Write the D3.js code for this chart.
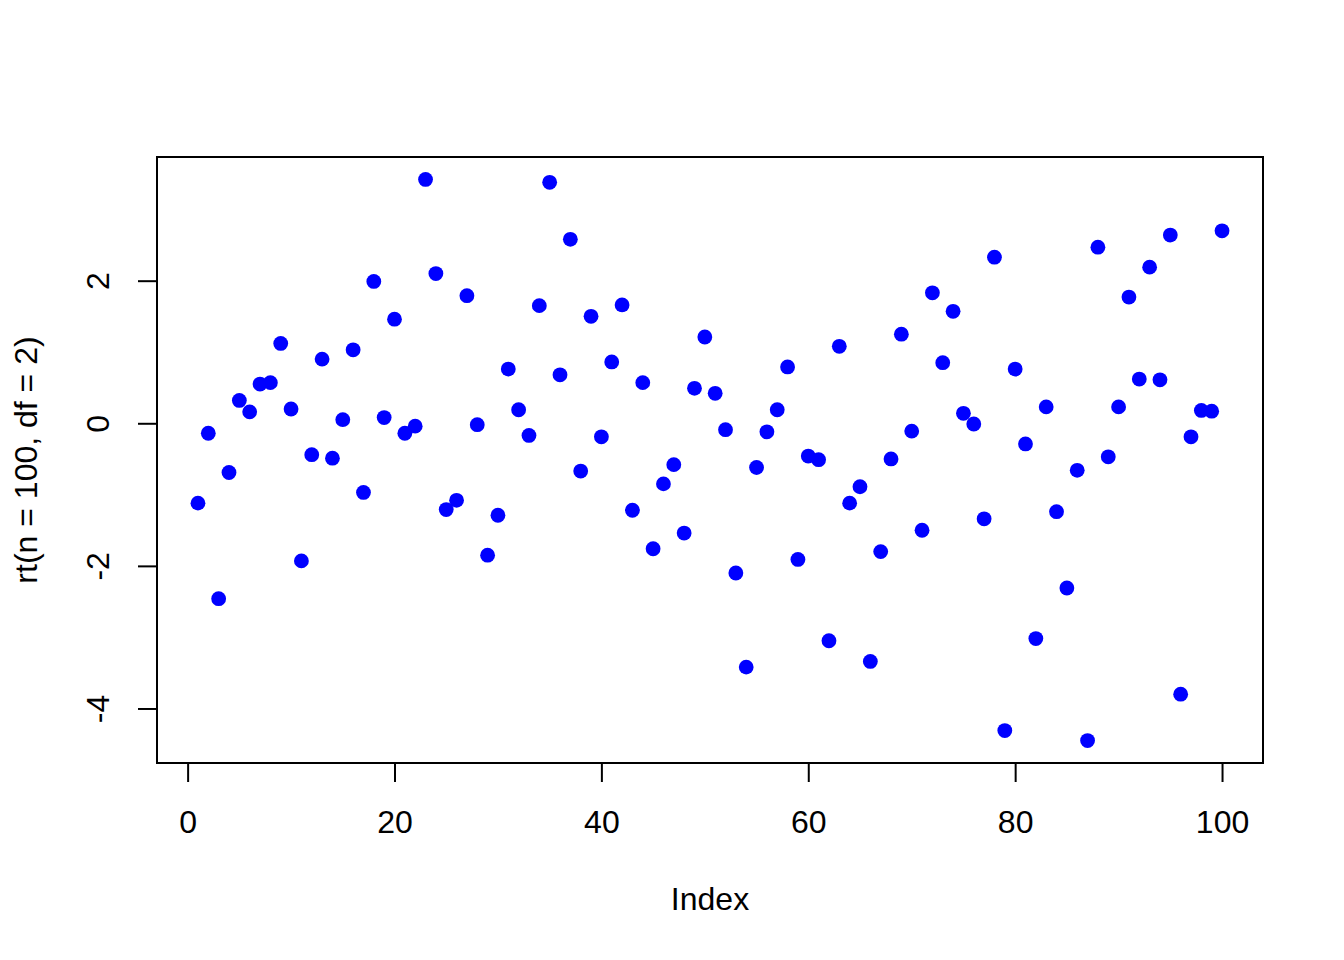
<!DOCTYPE html>
<html>
<head>
<meta charset="utf-8">
<script src="https://cdn.jsdelivr.net/npm/d3@7"></script>
<style>
  html, body { margin: 0; padding: 0; background: #fff; }
  svg { display: block; }
  text { font-family: "Liberation Sans", Arial, Helvetica, sans-serif; fill: #000; }
</style>
</head>
<body>
<svg id="chart" width="1344" height="960"></svg>
<script>
// ---- data ----
const values = [
  -1.12, -0.14, -2.46, -0.69, 0.32, 0.16, 0.55, 0.57, 1.12, 0.20,
  -1.93, -0.44, 0.90, -0.49, 0.05, 1.03, -0.97, 1.99, 0.08, 1.46,
  -0.14, -0.04, 3.42, 2.10, -1.21, -1.08, 1.79, -0.02, -1.85, -1.29,
  0.76, 0.19, -0.17, 1.65, 3.38, 0.68, 2.58, -0.67, 1.50, -0.19,
  0.86, 1.66, -1.22, 0.57, -1.76, -0.85, -0.58, -1.54, 0.49, 1.21,
  0.42, -0.09, -2.10, -3.42, -0.62, -0.12, 0.19, 0.79, -1.91, -0.46,
  -0.51, -3.05, 1.08, -1.12, -0.89, -3.34, -1.80, -0.50, 1.25, -0.11,
  -1.50, 1.83, 0.85, 1.57, 0.14, -0.01, -1.34, 2.33, -4.31, 0.76,
  -0.29, -3.02, 0.23, -1.24, -2.31, -0.66, -4.45, 2.47, -0.47, 0.23,
  1.77, 0.62, 2.19, 0.61, 2.64, -3.80, -0.19, 0.18, 0.17, 2.70
];
const indices = values.map((v, i) => i + 1);
const xTicks = [0, 20, 40, 60, 80, 100];
const yTicks = [-4, -2, 0, 2];
const xLabel = "Index";
const yLabel = "rt(n = 100, df = 2)";

// ---- layout (R base graphics, 192 dpi) ----
const W = 1344, H = 960;
const plot = { left: 157, right: 1263, top: 157, bottom: 763 };
const fontSize = 32;
const fmt = d => String(d); // plain hyphen-minus like R

function rExtend(ext) {
  const d = (ext[1] - ext[0]) * 0.04;
  return [ext[0] - d, ext[1] + d];
}

const x = d3.scaleLinear().domain(rExtend(d3.extent(indices))).range([plot.left, plot.right]);
const y = d3.scaleLinear().domain(rExtend(d3.extent(values))).range([plot.bottom, plot.top]);

const svg = d3.select("#chart");
svg.append("rect").attr("width", W).attr("height", H).attr("fill", "#fff");

// points
svg.append("g").selectAll("circle")
  .data(values)
  .join("circle")
  .attr("cx", (d, i) => x(indices[i]))
  .attr("cy", d => y(d))
  .attr("r", 7.4)
  .attr("fill", "#0000ff");

// box
svg.append("rect")
  .attr("x", plot.left).attr("y", plot.top)
  .attr("width", plot.right - plot.left).attr("height", plot.bottom - plot.top)
  .attr("fill", "none").attr("stroke", "#000").attr("stroke-width", 2);

// x axis
const xAxis = d3.axisBottom(x).tickValues(xTicks).tickSize(19).tickPadding(0).tickFormat(fmt);
const gx = svg.append("g").attr("transform", `translate(0,${plot.bottom})`).call(xAxis);
gx.select(".domain").attr("d", `M${x(xTicks[0])},0H${x(xTicks[xTicks.length - 1])}`)
  .attr("stroke", "#000").attr("stroke-width", 2);
gx.selectAll(".tick line").attr("stroke", "#000").attr("stroke-width", 2);
gx.selectAll(".tick text")
  .attr("y", 70).attr("dy", null)
  .attr("font-size", fontSize)
  .attr("font-family", "Liberation Sans, Arial, sans-serif")
  .attr("fill", "#000");

// y axis
const yAxis = d3.axisLeft(y).tickValues(yTicks).tickSize(19).tickPadding(0).tickFormat(fmt);
const gy = svg.append("g").attr("transform", `translate(${plot.left},0)`).call(yAxis);
gy.select(".domain").attr("d", `M0,${y(yTicks[0])}V${y(yTicks[yTicks.length - 1])}`)
  .attr("stroke", "#000").attr("stroke-width", 2);
gy.selectAll(".tick line").attr("stroke", "#000").attr("stroke-width", 2);
gy.selectAll(".tick text")
  .attr("x", null).attr("dy", null)
  .attr("transform", "translate(-48,0) rotate(-90)")
  .attr("text-anchor", "middle")
  .attr("font-size", fontSize)
  .attr("font-family", "Liberation Sans, Arial, sans-serif")
  .attr("fill", "#000");

// axis titles
svg.append("text")
  .attr("x", (plot.left + plot.right) / 2)
  .attr("y", 910)
  .attr("text-anchor", "middle")
  .attr("font-size", fontSize)
  .text(xLabel);

svg.append("text")
  .attr("transform", `translate(37,${(plot.top + plot.bottom) / 2}) rotate(-90)`)
  .attr("text-anchor", "middle")
  .attr("font-size", fontSize)
  .text(yLabel);
</script>
</body>
</html>
